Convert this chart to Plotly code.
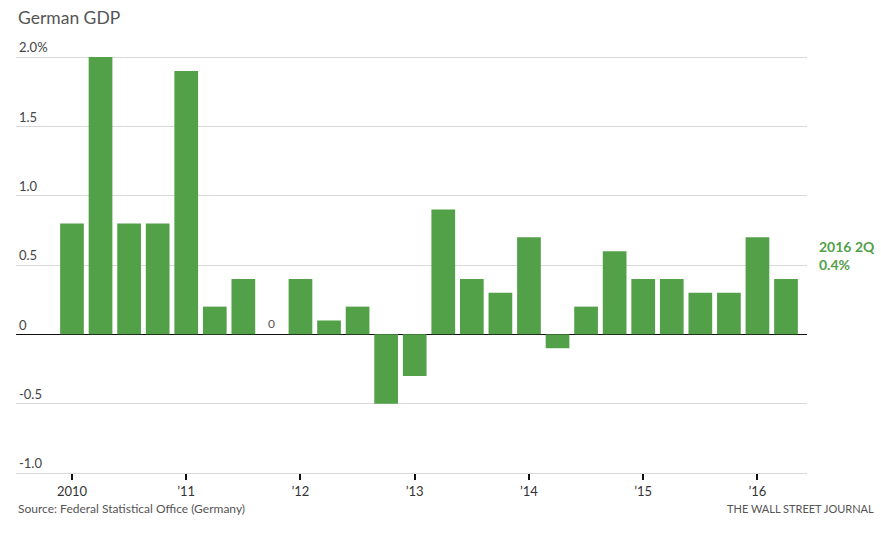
import plotly.graph_objects as go

quarters = ["2010 Q1","2010 Q2","2010 Q3","2010 Q4",
            "2011 Q1","2011 Q2","2011 Q3","2011 Q4",
            "2012 Q1","2012 Q2","2012 Q3","2012 Q4",
            "2013 Q1","2013 Q2","2013 Q3","2013 Q4",
            "2014 Q1","2014 Q2","2014 Q3","2014 Q4",
            "2015 Q1","2015 Q2","2015 Q3","2015 Q4",
            "2016 Q1","2016 Q2"]
gdp_growth = [0.8, 2.0, 0.8, 0.8,
              1.9, 0.2, 0.4, 0.0,
              0.4, 0.1, 0.2, -0.5,
              -0.3, 0.9, 0.4, 0.3,
              0.7, -0.1, 0.2, 0.6,
              0.4, 0.4, 0.3, 0.3,
              0.7, 0.4]
x_tick_labels = ["2010", "\u201911", "\u201912", "\u201913", "\u201914", "\u201915", "\u201916"]
y_tick_vals = [-1.0, -0.5, 0, 0.5, 1.0, 1.5, 2.0]
y_tick_labels = ["-1.0", "-0.5", "0", "0.5", "1.0", "1.5", "2.0%"]

GREEN = "#52a048"
FONT = "Lato"

idx = list(range(len(quarters)))
tick_pos = [i for i, q in enumerate(quarters) if q.endswith("Q1")]

fig = go.Figure()
fig.add_trace(go.Bar(
    x=idx, y=gdp_growth, marker=dict(color=GREEN, line=dict(width=0)),
    hovertext=quarters, hoverinfo="text+y", showlegend=False,
))

# zero-value label
for i, v in enumerate(gdp_growth):
    if v == 0:
        fig.add_annotation(x=i, y=0, text="0", showarrow=False, yanchor="bottom",
                           yshift=1, font=dict(family=FONT, size=12, color="#555555"))

last = len(gdp_growth) - 1
fig.add_annotation(x=1.0, xref="paper", xanchor="left", xshift=10,
                   y=gdp_growth[last], yref="y", yanchor="bottom", yshift=4,
                   text=f"<b>2016 2Q<br>{gdp_growth[last]}%</b>", showarrow=False, align="left",
                   font=dict(family=FONT, size=14, color=GREEN))

fig.add_annotation(x=0, xref="paper", y=1, yref="paper", xanchor="left", yanchor="bottom",
                   yshift=9, text="German GDP", showarrow=False,
                   font=dict(family=FONT, size=17.5, color="#555555"))
fig.add_annotation(x=0, xref="paper", y=0, yref="paper", xanchor="left", yanchor="top",
                   yshift=-26, text="Source: Federal Statistical Office (Germany)", showarrow=False,
                   font=dict(family=FONT, size=12, color="#555555"))
fig.add_annotation(x=1, xref="paper", y=0, yref="paper", xanchor="right", yanchor="top",
                   xshift=69, yshift=-27, text="THE WALL STREET JOURNAL", showarrow=False,
                   font=dict(family=FONT, size=11, color="#555555"))

fig.update_layout(
    width=881, height=538,
    margin=dict(l=16, r=74, t=39, b=65),
    paper_bgcolor="white", plot_bgcolor="white",
    bargap=0.17,
    font=dict(family=FONT, color="#444444"),
    xaxis=dict(range=[-1.96, last + 0.735], tickvals=tick_pos, ticktext=x_tick_labels,
               showgrid=False, zeroline=False, showline=True, linecolor="#d9d9d9", linewidth=1,
               ticks="outside", ticklen=6, tickwidth=1.5, tickcolor="#111111",
               tickfont=dict(family=FONT, size=13, color="#333333"), fixedrange=True),
    yaxis=dict(range=[-1.0, 2.13], tickvals=y_tick_vals, ticktext=y_tick_labels,
               ticklabelposition="inside top", ticks="",
               showgrid=True, gridcolor="#d9d9d9", gridwidth=1,
               zeroline=True, zerolinecolor="#111111", zerolinewidth=1.2,
               showline=False,
               tickfont=dict(family=FONT, size=13, color="#444444"), fixedrange=True),
)

fig.write_html("out.html", config={"displayModeBar": False},
               post_script="document.body.style.margin='0';document.body.style.padding='0';")
